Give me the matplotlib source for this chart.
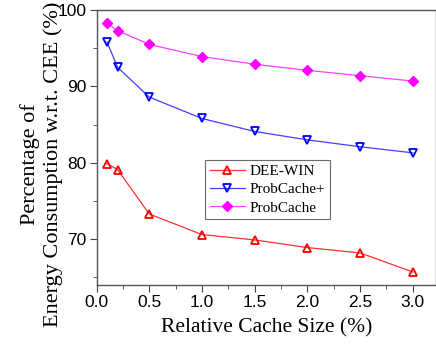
import numpy as np
import matplotlib.pyplot as plt

cache_size = [0.1, 0.2, 0.5, 1.0, 1.5, 2.0, 2.5, 3.0]
dee_win = [79.9, 79.1, 73.3, 70.6, 69.9, 68.9, 68.2, 65.7]
probcache_plus = [95.8, 92.5, 88.6, 85.8, 84.1, 83.0, 82.1, 81.3]
probcache = [98.3, 97.3, 95.5, 93.9, 92.9, 92.1, 91.4, 90.7]

plt.rcParams['font.family'] = 'Liberation Serif'

fig = plt.figure(figsize=(4.36, 3.44), dpi=100)
ax = fig.add_axes([96.5 / 436, 1 - 285 / 344, (436 - 96.5) / 436, (285 - 10) / 344])

ax.plot(cache_size, dee_win, color='#ff3030', lw=0.9, marker='^', ms=6,
        mfc='none', mec='red', mew=1.3, label='DEE-WIN')
ax.plot(cache_size, probcache_plus, color='#4040ff', lw=0.9, marker='v', ms=6,
        mfc='none', mec='blue', mew=1.3, label='ProbCache+')
ax.plot(cache_size, probcache, color='#ff40ff', lw=0.9, marker='D', ms=5,
        mfc='magenta', mec='magenta', label='ProbCache')

ax.set_xlim(0, 3.22)
ax.set_ylim(64, 100)
ax.set_xticks([0.0, 0.5, 1.0, 1.5, 2.0, 2.5, 3.0])
ax.set_xticks(np.arange(0.25, 3.2, 0.5), minor=True)
ax.set_yticks([70, 80, 90, 100])
ax.set_yticks([65, 75, 85, 95], minor=True)
ax.tick_params(which='both', direction='out', color='#444444')
ax.tick_params(which='major', length=5, labelsize=12.5, pad=2)
ax.tick_params(which='minor', length=3)
for lab in ax.get_xticklabels() + ax.get_yticklabels():
    lab.set_family('Liberation Sans')
for s in ax.spines.values():
    s.set_color('#555555')
    s.set_linewidth(1.0)

ax.set_xlabel('Relative Cache Size (%)', fontsize=15.5, labelpad=6)
ax.set_ylabel('Percentage of\nEnergy Consumption w.r.t. CEE (%)', fontsize=16)
ax.yaxis.set_label_coords(-0.1, 0.44)

leg = ax.legend(loc='upper left', bbox_to_anchor=(0.32, 0.455), fontsize=11,
                frameon=True, fancybox=False, edgecolor='#444444',
                borderpad=0.3, labelspacing=0.3, handlelength=2.3,
                handletextpad=0.3, borderaxespad=0)
leg.get_frame().set_linewidth(0.8)

fig.savefig('out.png', dpi=100)
